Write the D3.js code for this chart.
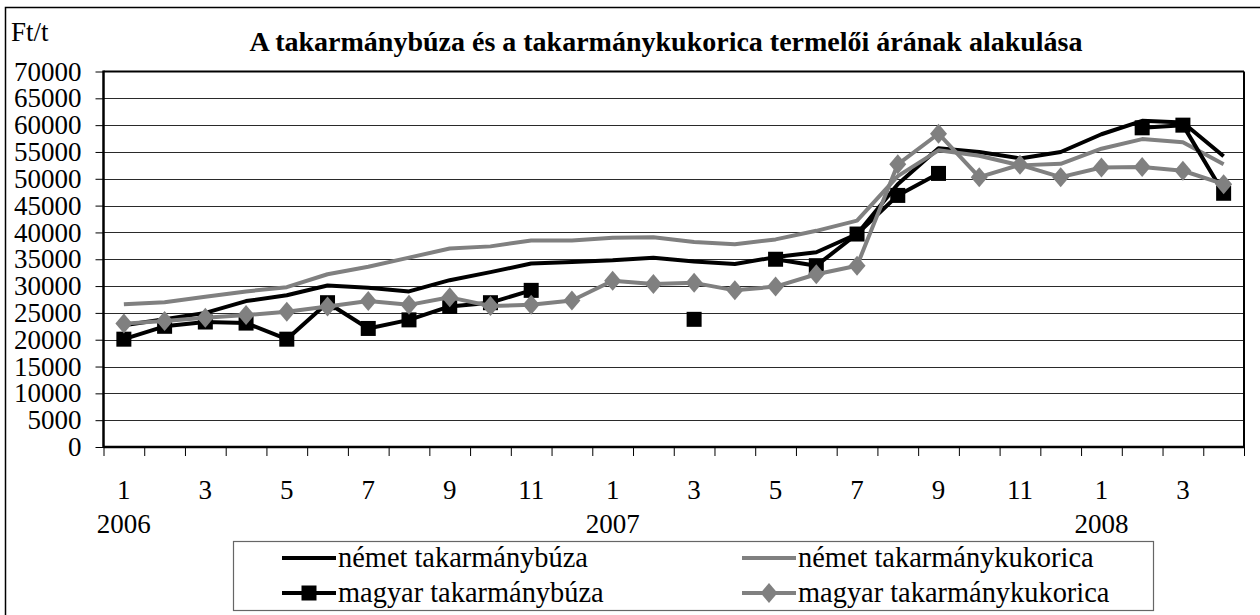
<!DOCTYPE html>
<html>
<head>
<meta charset="utf-8">
<script src="https://cdn.jsdelivr.net/npm/d3@7"></script>
<style>
  body { margin: 0; background: #fff; }
</style>
</head>
<body>
<svg width="1260" height="615"></svg>
<script>
// honapok (2006.01 - 2008.04)
var months = [1,2,3,4,5,6,7,8,9,10,11,12, 1,2,3,4,5,6,7,8,9,10,11,12, 1,2,3,4];
var years = [{i: 0, label: "2006"}, {i: 12, label: "2007"}, {i: 24, label: "2008"}];
var yTicks = [0,5000,10000,15000,20000,25000,30000,35000,40000,45000,50000,55000,60000,65000,70000];

var nemetBuza = [22700,23800,25000,27200,28300,30100,29700,29000,31100,32600,34200,34500,
                 34800,35300,34600,34100,35400,36300,39700,49000,55700,55000,53800,55000,
                 58300,60800,60500,54200];
var nemetKukorica = [26600,27000,28000,29000,29800,32200,33600,35300,37000,37400,38500,38500,
                     39000,39100,38200,37800,38700,40300,42200,50500,55300,54300,52500,52800,
                     55600,57400,56800,52700];
var magyarBuza = [20100,22500,23300,23100,20100,26900,22100,23700,26200,26900,29200,null,
                  null,null,23800,null,35000,33800,39700,46900,51000,null,null,null,
                  null,59500,60000,47300];
var magyarKukorica = [23000,23500,24100,24600,25200,26200,27200,26500,27900,26300,26500,27300,
                      31000,30400,30600,29200,29900,32200,33800,52700,58400,50300,52600,50300,
                      52100,52200,51500,49000];

var series = [
  {name: "német takarmánybúza", values: nemetBuza, color: "#000", marker: null},
  {name: "német takarmánykukorica", values: nemetKukorica, color: "#808080", marker: null},
  {name: "magyar takarmánybúza", values: magyarBuza, color: "#000", marker: "square"},
  {name: "magyar takarmánykukorica", values: magyarKukorica, color: "#808080", marker: "diamond"}
];

var FONT = "'Liberation Serif', 'Times New Roman', 'DejaVu Serif', serif";

var svg = d3.select("svg");
var pLeft = 103.5, pRight = 1244, pTop = 71.5, pBottom = 447;

// kulso keret
svg.append("rect")
  .attr("x", 5.5).attr("y", 7.5)
  .attr("width", 1270).attr("height", 620)
  .attr("fill", "none").attr("stroke", "#000").attr("stroke-width", 1.5);

var x = d3.scaleBand().domain(d3.range(months.length)).range([pLeft, pRight]);
var xb = d3.scaleLinear().domain([0, months.length]).range([pLeft, pRight]);
var y = d3.scaleLinear().domain([0, 70000]).range([pBottom, pTop]);
var cx = function(i) { return x(i) + x.bandwidth() / 2; };

// racsvonalak
svg.append("g")
  .selectAll("line")
  .data(yTicks.filter(function(d) { return d > 0 && d < 70000; }))
  .enter().append("line")
  .attr("x1", pLeft).attr("x2", pRight)
  .attr("y1", function(d) { return Math.round(y(d)) + 0.5; })
  .attr("y2", function(d) { return Math.round(y(d)) + 0.5; })
  .attr("stroke", "#2a2a2a").attr("stroke-width", 1);

// y tengely
var yAxis = svg.append("g")
  .attr("transform", "translate(" + pLeft + ",0)")
  .call(d3.axisLeft(y).tickValues(yTicks).tickSize(8).tickPadding(14).tickFormat(d3.format("d")));
yAxis.select(".domain").remove();
yAxis.selectAll(".tick line").attr("stroke", "#000");
yAxis.selectAll("text").attr("font-size", 27).attr("font-family", FONT).attr("fill", "#000");

// x tengely (csak beosztasok)
var xAxis = svg.append("g")
  .attr("transform", "translate(0," + pBottom + ")")
  .call(d3.axisBottom(xb).tickValues(d3.range(0, months.length + 1)).tickSize(9).tickFormat(""));
xAxis.select(".domain").remove();
xAxis.selectAll(".tick line").attr("stroke", "#000");

// plot keret
svg.append("line").attr("x1", pLeft).attr("x2", pRight).attr("y1", pTop).attr("y2", pTop)
  .attr("stroke", "#000").attr("stroke-width", 2);
svg.append("line").attr("x1", pRight).attr("x2", pRight).attr("y1", pTop).attr("y2", pBottom)
  .attr("stroke", "#000").attr("stroke-width", 2);
svg.append("line").attr("x1", pLeft).attr("x2", pLeft).attr("y1", pTop - 1).attr("y2", pBottom + 1)
  .attr("stroke", "#000").attr("stroke-width", 2.5);
svg.append("line").attr("x1", pLeft).attr("x2", pRight).attr("y1", pBottom).attr("y2", pBottom)
  .attr("stroke", "#000").attr("stroke-width", 2.5);

// honap feliratok
svg.append("g").selectAll("text")
  .data(d3.range(0, months.length, 2))
  .enter().append("text")
  .attr("x", cx)
  .attr("y", 499)
  .attr("text-anchor", "middle")
  .attr("font-family", FONT)
  .attr("font-size", 27)
  .text(function(i) { return months[i]; });

svg.append("g").selectAll("text")
  .data(years)
  .enter().append("text")
  .attr("x", function(d) { return cx(d.i); })
  .attr("y", 533)
  .attr("text-anchor", "middle")
  .attr("font-family", FONT)
  .attr("font-size", 27)
  .text(function(d) { return d.label; });

// vonalak
var line = d3.line()
  .defined(function(d) { return d != null; })
  .x(function(d, i) { return cx(i); })
  .y(function(d) { return y(d); });

var diamond = function(s) { return "M0," + (-s) + "L" + (s * 0.85) + ",0L0," + s + "L" + (-s * 0.85) + ",0Z"; };

series.forEach(function(s) {
  svg.append("path")
    .datum(s.values)
    .attr("d", line)
    .attr("fill", "none")
    .attr("stroke", s.color)
    .attr("stroke-width", 4)
    .attr("stroke-linejoin", "round");

  if (s.marker) {
    var pts = s.values.map(function(v, i) { return {i: i, v: v}; })
      .filter(function(d) { return d.v != null; });
    var g = svg.append("g");
    if (s.marker == "square") {
      g.selectAll("rect").data(pts).enter().append("rect")
        .attr("x", function(d) { return cx(d.i) - 7.5; })
        .attr("y", function(d) { return y(d.v) - 7.5; })
        .attr("width", 15).attr("height", 15)
        .attr("fill", s.color);
    } else {
      g.selectAll("path").data(pts).enter().append("path")
        .attr("transform", function(d) { return "translate(" + cx(d.i) + "," + y(d.v) + ")"; })
        .attr("d", diamond(10))
        .attr("fill", s.color);
    }
  }
});

// cim
svg.append("text")
  .attr("x", 666).attr("y", 51)
  .attr("text-anchor", "middle")
  .attr("font-family", FONT)
  .attr("font-size", 28).attr("font-weight", "bold")
  .text("A takarmánybúza és a takarmánykukorica termelői árának alakulása");

svg.append("text")
  .attr("x", 11).attr("y", 41)
  .attr("font-family", FONT)
  .attr("font-size", 27)
  .text("Ft/t");

// jelmagyarazat
var leg = svg.append("g");
leg.append("rect")
  .attr("x", 233.5).attr("y", 541.5)
  .attr("width", 920).attr("height", 69)
  .attr("fill", "#fff").attr("stroke", "#666").attr("stroke-width", 1.2);

var legPos = [
  {x: 282, y: 558}, {x: 742, y: 558},
  {x: 282, y: 593}, {x: 742, y: 593}
];
series.forEach(function(s, k) {
  var p = legPos[k];
  var item = leg.append("g").attr("transform", "translate(" + p.x + "," + p.y + ")");
  item.append("line").attr("x1", 0).attr("x2", 54).attr("y1", 0).attr("y2", 0)
    .attr("stroke", s.color).attr("stroke-width", 4);
  if (s.marker == "square") {
    item.append("rect").attr("x", 19.5).attr("y", -7.5).attr("width", 15).attr("height", 15).attr("fill", s.color);
  } else if (s.marker == "diamond") {
    item.append("path").attr("transform", "translate(27,0)").attr("d", diamond(10)).attr("fill", s.color);
  }
  item.append("text").attr("x", 56).attr("y", 0).attr("dy", "0.33em")
    .attr("font-family", FONT)
    .attr("font-size", 28.4)
    .text(s.name);
});
</script>
</body>
</html>
